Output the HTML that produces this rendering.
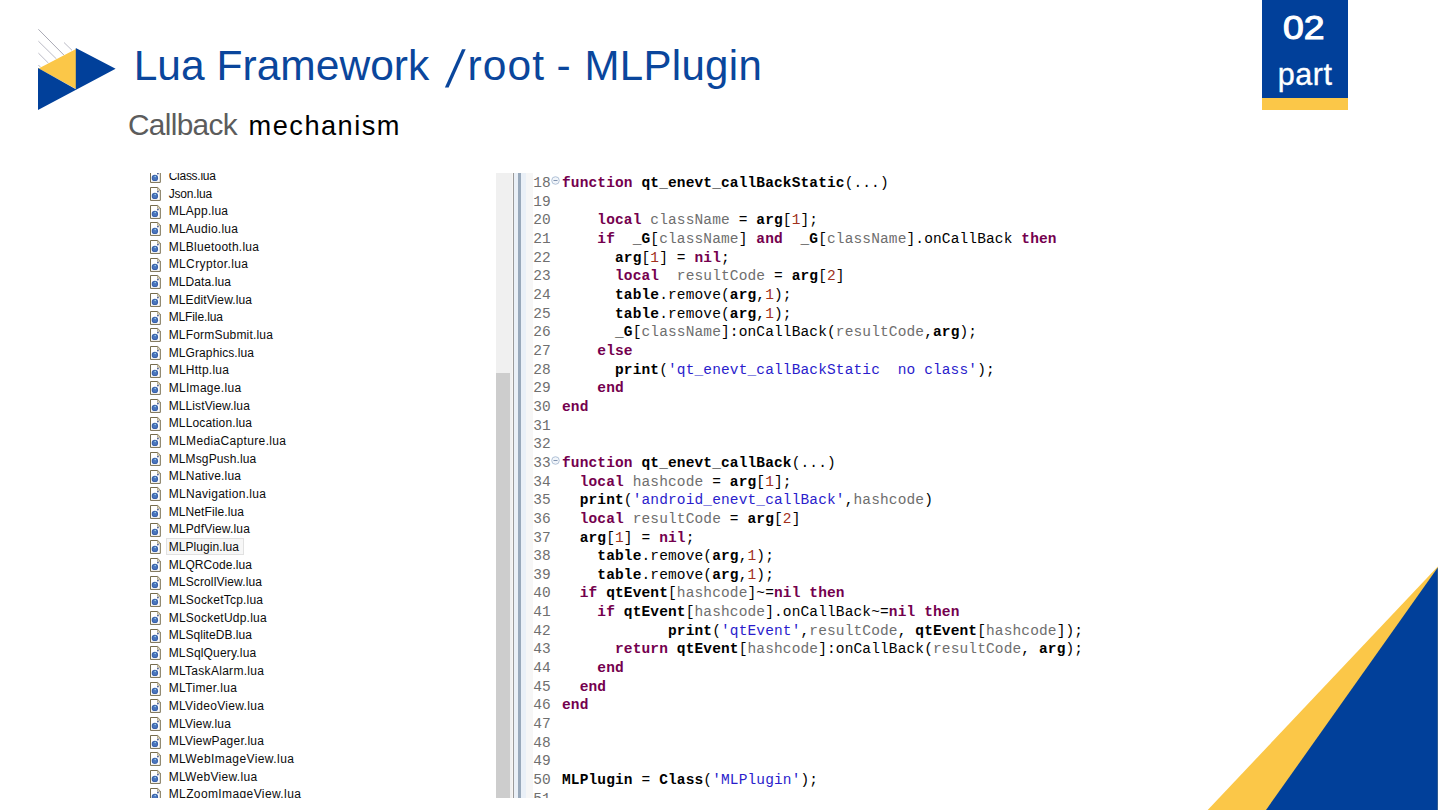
<!DOCTYPE html>
<html lang="en"><head><meta charset="utf-8"><title>Lua Framework /root - MLPlugin</title>
<style>
html,body{margin:0;padding:0;background:#fff;}
body{width:1440px;height:810px;position:relative;overflow:hidden;font-family:"Liberation Sans",sans-serif;}
.w,.w li{position:static;margin:0;padding:0;height:0;font-size:0;line-height:0;font-weight:normal;list-style:none;}
.x{position:absolute;white-space:pre;margin:0;}
.f{font-size:12px;line-height:14px;color:#0c0c0c;}
svg{position:absolute;left:0;top:0;overflow:visible;}
#badge{position:absolute;left:1262px;top:0;width:86px;height:98px;background:#01409a;}
#badge2{position:absolute;left:1262px;top:98px;width:86px;height:11.6px;background:#fbc748;}
#files{position:absolute;left:0;top:173px;width:480px;height:625px;overflow:hidden;}
#files .in{position:absolute;left:0;top:-173px;}
#sel{position:absolute;left:165.6px;top:538.3px;width:78.2px;height:16.7px;border:1px solid #e1e1e1;background:#f7f7f7;box-sizing:border-box;}
#code{position:absolute;left:496px;top:173px;width:900px;height:625px;overflow:hidden;}
#code .in{position:absolute;left:-496px;top:-173px;}
.g0{position:absolute;}
.c,.ln{position:absolute;white-space:pre;font-family:"Liberation Mono", monospace;font-size:14.5px;line-height:18px;letter-spacing:0.13px;color:#000;}
.ln{color:#6f6f6f;left:533.22px;}
.c{left:562px;}
.k{color:#74004e;font-weight:bold;}
.g{font-weight:bold;}
.l{color:#6e6e6e;}
.n{color:#a0301c;}
.s{color:#2a1ccc;}

</style></head><body>
<svg width="130" height="120" viewBox="0 0 130 120">
<g stroke="#aeaebb" stroke-width="0.85" fill="none">
<line x1="38.4" y1="29.3" x2="64" y2="55.2" stroke="#9a9aa6"/><line x1="38.4" y1="41.2" x2="56.5" y2="59"/>
<line x1="38.4" y1="53.1" x2="48.5" y2="63.2"/><line x1="64" y1="42.5" x2="72" y2="50.3"/>
<line x1="38.4" y1="65" x2="40.5" y2="67.2"/>
</g>
<polygon points="38.6,68.4 76,49 76,89" fill="#fbc748"/>
<polygon points="75.8,48 115.6,68.7 38,110 38,68 75.8,89.2" fill="#01409a"/>
</svg>
<svg width="1440" height="810" viewBox="0 0 1440 810" style="pointer-events:none">
<polygon points="1437.8,566.5 1437.8,810 1207.7,810" fill="#fbc748"/>
<polygon points="1437.8,567.5 1437.8,810 1266,810" fill="#01409a"/>
</svg>
<div id="badge"></div><div id="badge2"></div>
<h1 class="w"><span class="x t" style="left:133.7px;top:40px;letter-spacing:0.03px;font-size:42.5px;line-height:51px;color:#0a469c;">Lua Framework</span> <span class="x t" style="left:445px;top:43px;transform:skewX(-11.43deg) scaleY(1.106);transform-origin:0 44px;font-size:47px;line-height:56px;color:#0a469c;">/</span><span class="x t" style="left:467.5px;top:40px;letter-spacing:1.09px;font-size:42.5px;line-height:51px;color:#0a469c;">root</span> <span class="x t" style="left:556.6px;top:40px;font-size:42.5px;line-height:51px;color:#0a469c;">-</span> <span class="x t" style="left:584.5px;top:41px;letter-spacing:0.31px;font-size:42px;line-height:50px;color:#0a469c;">MLPlugin</span></h1>
<h2 class="w"><span class="x st" style="left:127.9px;top:107px;letter-spacing:-0.64px;font-size:29.8px;line-height:36px;color:#5c5c5c;">Callback</span> <span class="x st" style="left:248.6px;top:109px;letter-spacing:1.48px;font-size:27.2px;line-height:33px;color:#000;">mechanism</span></h2>
<div class="w"><span class="x b" style="left:1283px;top:7.6px;transform:scaleX(1.114);transform-origin:0 31px;-webkit-text-stroke:1.1px #fff;font-size:33.5px;line-height:40px;color:#fff;">02</span> <span class="x b" style="left:1277.77px;top:55.8px;letter-spacing:0.56px;-webkit-text-stroke:0.35px #fff;font-size:30.5px;line-height:37px;color:#fff;">part</span></div>
<div id="files"><div class="in">
<svg width="0" height="0" style="position:absolute"><defs><symbol id="ic" viewBox="0 0 10.8 13.9" overflow="visible"><path d="M0.5 0.5 H7.7 L10.3 3.1 V13.4 H0.5 Z" fill="#fff" stroke="#6f6443" stroke-width="0.95"/><path d="M7.5 0.8 V3.3 H10" fill="#e9e3cc" stroke="#8d8260" stroke-width="0.6"/><circle cx="4.9" cy="8.9" r="3.2" fill="#3a62aa"/><circle cx="4.9" cy="8.9" r="2.2" fill="#4b76bd"/><circle cx="5.2" cy="7.5" r="0.8" fill="#9bd3ec"/><circle cx="7.9" cy="4.6" r="0.85" fill="#3d4f86"/></symbol></defs></svg>
<div id="sel"></div>
<ul class="w">
<li><svg style="left:150.1px;top:169.43px" width="10.8" height="13.9"><use href="#ic" width="10.8" height="13.9"/></svg><span class="x f" style="left:168.7px;top:168.93px;letter-spacing:-0.27px;">Class.lua</span></li>
<li><svg style="left:150.1px;top:187.1px" width="10.8" height="13.9"><use href="#ic" width="10.8" height="13.9"/></svg><span class="x f" style="left:168.7px;top:186.6px;letter-spacing:-0.19px;">Json.lua</span></li>
<li><svg style="left:150.1px;top:204.77px" width="10.8" height="13.9"><use href="#ic" width="10.8" height="13.9"/></svg><span class="x f" style="left:168.7px;top:204.27px;letter-spacing:0.24px;">MLApp.lua</span></li>
<li><svg style="left:150.1px;top:222.43px" width="10.8" height="13.9"><use href="#ic" width="10.8" height="13.9"/></svg><span class="x f" style="left:168.7px;top:221.93px;letter-spacing:0.25px;">MLAudio.lua</span></li>
<li><svg style="left:150.1px;top:240.1px" width="10.8" height="13.9"><use href="#ic" width="10.8" height="13.9"/></svg><span class="x f" style="left:168.7px;top:239.6px;letter-spacing:0.25px;">MLBluetooth.lua</span></li>
<li><svg style="left:150.1px;top:257.77px" width="10.8" height="13.9"><use href="#ic" width="10.8" height="13.9"/></svg><span class="x f" style="left:168.7px;top:257.27px;letter-spacing:0.38px;">MLCryptor.lua</span></li>
<li><svg style="left:150.1px;top:275.44px" width="10.8" height="13.9"><use href="#ic" width="10.8" height="13.9"/></svg><span class="x f" style="left:168.7px;top:274.94px;letter-spacing:0.1px;">MLData.lua</span></li>
<li><svg style="left:150.1px;top:293.1px" width="10.8" height="13.9"><use href="#ic" width="10.8" height="13.9"/></svg><span class="x f" style="left:168.7px;top:292.6px;letter-spacing:0.11px;">MLEditView.lua</span></li>
<li><svg style="left:150.1px;top:310.77px" width="10.8" height="13.9"><use href="#ic" width="10.8" height="13.9"/></svg><span class="x f" style="left:168.7px;top:310.27px;letter-spacing:-0.12px;">MLFile.lua</span></li>
<li><svg style="left:150.1px;top:328.44px" width="10.8" height="13.9"><use href="#ic" width="10.8" height="13.9"/></svg><span class="x f" style="left:168.7px;top:327.94px;letter-spacing:0.19px;">MLFormSubmit.lua</span></li>
<li><svg style="left:150.1px;top:346.1px" width="10.8" height="13.9"><use href="#ic" width="10.8" height="13.9"/></svg><span class="x f" style="left:168.7px;top:345.6px;letter-spacing:0.1px;">MLGraphics.lua</span></li>
<li><svg style="left:150.1px;top:363.77px" width="10.8" height="13.9"><use href="#ic" width="10.8" height="13.9"/></svg><span class="x f" style="left:168.7px;top:363.27px;letter-spacing:0.24px;">MLHttp.lua</span></li>
<li><svg style="left:150.1px;top:381.44px" width="10.8" height="13.9"><use href="#ic" width="10.8" height="13.9"/></svg><span class="x f" style="left:168.7px;top:380.94px;letter-spacing:0.3px;">MLImage.lua</span></li>
<li><svg style="left:150.1px;top:399.1px" width="10.8" height="13.9"><use href="#ic" width="10.8" height="13.9"/></svg><span class="x f" style="left:168.7px;top:398.6px;letter-spacing:0.1px;">MLListView.lua</span></li>
<li><svg style="left:150.1px;top:416.77px" width="10.8" height="13.9"><use href="#ic" width="10.8" height="13.9"/></svg><span class="x f" style="left:168.7px;top:416.27px;letter-spacing:0.15px;">MLLocation.lua</span></li>
<li><svg style="left:150.1px;top:434.44px" width="10.8" height="13.9"><use href="#ic" width="10.8" height="13.9"/></svg><span class="x f" style="left:168.7px;top:433.94px;letter-spacing:0.35px;">MLMediaCapture.lua</span></li>
<li><svg style="left:150.1px;top:452.11px" width="10.8" height="13.9"><use href="#ic" width="10.8" height="13.9"/></svg><span class="x f" style="left:168.7px;top:451.61px;letter-spacing:0.12px;">MLMsgPush.lua</span></li>
<li><svg style="left:150.1px;top:469.77px" width="10.8" height="13.9"><use href="#ic" width="10.8" height="13.9"/></svg><span class="x f" style="left:168.7px;top:469.27px;letter-spacing:0.21px;">MLNative.lua</span></li>
<li><svg style="left:150.1px;top:487.44px" width="10.8" height="13.9"><use href="#ic" width="10.8" height="13.9"/></svg><span class="x f" style="left:168.7px;top:486.94px;letter-spacing:0.3px;">MLNavigation.lua</span></li>
<li><svg style="left:150.1px;top:505.11px" width="10.8" height="13.9"><use href="#ic" width="10.8" height="13.9"/></svg><span class="x f" style="left:168.7px;top:504.61px;letter-spacing:0.1px;">MLNetFile.lua</span></li>
<li><svg style="left:150.1px;top:522.77px" width="10.8" height="13.9"><use href="#ic" width="10.8" height="13.9"/></svg><span class="x f" style="left:168.7px;top:522.27px;letter-spacing:0.17px;">MLPdfView.lua</span></li>
<li><svg style="left:150.1px;top:540.44px" width="10.8" height="13.9"><use href="#ic" width="10.8" height="13.9"/></svg><span class="x f" style="left:168.7px;top:539.94px;letter-spacing:0.08px;">MLPlugin.lua</span></li>
<li><svg style="left:150.1px;top:558.11px" width="10.8" height="13.9"><use href="#ic" width="10.8" height="13.9"/></svg><span class="x f" style="left:168.7px;top:557.61px;letter-spacing:0.05px;">MLQRCode.lua</span></li>
<li><svg style="left:150.1px;top:575.77px" width="10.8" height="13.9"><use href="#ic" width="10.8" height="13.9"/></svg><span class="x f" style="left:168.7px;top:575.27px;letter-spacing:0.14px;">MLScrollView.lua</span></li>
<li><svg style="left:150.1px;top:593.44px" width="10.8" height="13.9"><use href="#ic" width="10.8" height="13.9"/></svg><span class="x f" style="left:168.7px;top:592.94px;letter-spacing:0.21px;">MLSocketTcp.lua</span></li>
<li><svg style="left:150.1px;top:611.11px" width="10.8" height="13.9"><use href="#ic" width="10.8" height="13.9"/></svg><span class="x f" style="left:168.7px;top:610.61px;letter-spacing:0.23px;">MLSocketUdp.lua</span></li>
<li><svg style="left:150.1px;top:628.78px" width="10.8" height="13.9"><use href="#ic" width="10.8" height="13.9"/></svg><span class="x f" style="left:168.7px;top:628.28px;letter-spacing:0.04px;">MLSqliteDB.lua</span></li>
<li><svg style="left:150.1px;top:646.44px" width="10.8" height="13.9"><use href="#ic" width="10.8" height="13.9"/></svg><span class="x f" style="left:168.7px;top:645.94px;letter-spacing:0.18px;">MLSqlQuery.lua</span></li>
<li><svg style="left:150.1px;top:664.11px" width="10.8" height="13.9"><use href="#ic" width="10.8" height="13.9"/></svg><span class="x f" style="left:168.7px;top:663.61px;letter-spacing:0.29px;">MLTaskAlarm.lua</span></li>
<li><svg style="left:150.1px;top:681.78px" width="10.8" height="13.9"><use href="#ic" width="10.8" height="13.9"/></svg><span class="x f" style="left:168.7px;top:681.28px;letter-spacing:0.35px;">MLTimer.lua</span></li>
<li><svg style="left:150.1px;top:699.44px" width="10.8" height="13.9"><use href="#ic" width="10.8" height="13.9"/></svg><span class="x f" style="left:168.7px;top:698.94px;letter-spacing:0.32px;">MLVideoView.lua</span></li>
<li><svg style="left:150.1px;top:717.11px" width="10.8" height="13.9"><use href="#ic" width="10.8" height="13.9"/></svg><span class="x f" style="left:168.7px;top:716.61px;letter-spacing:0.22px;">MLView.lua</span></li>
<li><svg style="left:150.1px;top:734.78px" width="10.8" height="13.9"><use href="#ic" width="10.8" height="13.9"/></svg><span class="x f" style="left:168.7px;top:734.28px;letter-spacing:0.21px;">MLViewPager.lua</span></li>
<li><svg style="left:150.1px;top:752.44px" width="10.8" height="13.9"><use href="#ic" width="10.8" height="13.9"/></svg><span class="x f" style="left:168.7px;top:751.94px;letter-spacing:0.42px;">MLWebImageView.lua</span></li>
<li><svg style="left:150.1px;top:770.11px" width="10.8" height="13.9"><use href="#ic" width="10.8" height="13.9"/></svg><span class="x f" style="left:168.7px;top:769.61px;letter-spacing:0.31px;">MLWebView.lua</span></li>
<li><svg style="left:150.1px;top:787.78px" width="10.8" height="13.9"><use href="#ic" width="10.8" height="13.9"/></svg><span class="x f" style="left:168.7px;top:787.28px;letter-spacing:0.39px;">MLZoomImageView.lua</span></li>
</ul>
</div></div>
<div id="code"><div class="in">
<div class="g0" style="left:496px;top:173px;width:17px;height:625px;background:#f0f0f0"></div>
<div class="g0" style="left:496px;top:373px;width:14px;height:425px;background:#cdcdcd"></div>
<div class="g0" style="left:511.6px;top:173px;width:1.4px;height:625px;background:#f8f5f3"></div>
<div class="g0" style="left:513px;top:173px;width:1.3px;height:625px;background:#9a9a9a"></div>
<div class="g0" style="left:514.3px;top:173px;width:12px;height:625px;background:#eaf0f7"></div>
<div class="g0" style="left:518px;top:173px;width:3px;height:625px;background:#99a9bb"></div>
<div class="g0" style="left:526px;top:173px;width:7px;height:625px;background:#f6f6f6"></div>
<div class="w"><span class="ln" style="top:174.1px">18</span><svg style="left:551px;top:175.8px" width="9" height="9" viewBox="0 0 9 9"><circle cx="4.5" cy="4.5" r="3.8" fill="#f1f5fa" stroke="#a9bbd3" stroke-width="0.9"/><line x1="2.5" y1="4.5" x2="6.5" y2="4.5" stroke="#7388a6" stroke-width="0.9"/></svg> <code class="c" style="top:174.1px"><span class="k">function</span> <span class="g">qt_enevt_callBackStatic</span>(...)</code></div>
<div class="w"><span class="ln" style="top:192.75px">19</span></div>
<div class="w"><span class="ln" style="top:211.41px">20</span> <code class="c" style="top:211.41px">    <span class="k">local</span> <span class="l">className</span> = <span class="g">arg</span>[<span class="n">1</span>];</code></div>
<div class="w"><span class="ln" style="top:230.06px">21</span> <code class="c" style="top:230.06px">    <span class="k">if</span>  <span class="g">_G</span>[<span class="l">className</span>] <span class="k">and</span>  <span class="g">_G</span>[<span class="l">className</span>].onCallBack <span class="k">then</span></code></div>
<div class="w"><span class="ln" style="top:248.72px">22</span> <code class="c" style="top:248.72px">      <span class="g">arg</span>[<span class="n">1</span>] = <span class="k">nil</span>;</code></div>
<div class="w"><span class="ln" style="top:267.37px">23</span> <code class="c" style="top:267.37px">      <span class="k">local</span>  <span class="l">resultCode</span> = <span class="g">arg</span>[<span class="n">2</span>]</code></div>
<div class="w"><span class="ln" style="top:286.02px">24</span> <code class="c" style="top:286.02px">      <span class="g">table</span>.remove(<span class="g">arg</span>,<span class="n">1</span>);</code></div>
<div class="w"><span class="ln" style="top:304.68px">25</span> <code class="c" style="top:304.68px">      <span class="g">table</span>.remove(<span class="g">arg</span>,<span class="n">1</span>);</code></div>
<div class="w"><span class="ln" style="top:323.33px">26</span> <code class="c" style="top:323.33px">      <span class="g">_G</span>[<span class="l">className</span>]:onCallBack(<span class="l">resultCode</span>,<span class="g">arg</span>);</code></div>
<div class="w"><span class="ln" style="top:341.99px">27</span> <code class="c" style="top:341.99px">    <span class="k">else</span></code></div>
<div class="w"><span class="ln" style="top:360.64px">28</span> <code class="c" style="top:360.64px">      <span class="g">print</span>(<span class="s">'qt_enevt_callBackStatic  no class'</span>);</code></div>
<div class="w"><span class="ln" style="top:379.29px">29</span> <code class="c" style="top:379.29px">    <span class="k">end</span></code></div>
<div class="w"><span class="ln" style="top:397.95px">30</span> <code class="c" style="top:397.95px"><span class="k">end</span></code></div>
<div class="w"><span class="ln" style="top:416.6px">31</span></div>
<div class="w"><span class="ln" style="top:435.26px">32</span></div>
<div class="w"><span class="ln" style="top:453.91px">33</span><svg style="left:551px;top:455.61px" width="9" height="9" viewBox="0 0 9 9"><circle cx="4.5" cy="4.5" r="3.8" fill="#f1f5fa" stroke="#a9bbd3" stroke-width="0.9"/><line x1="2.5" y1="4.5" x2="6.5" y2="4.5" stroke="#7388a6" stroke-width="0.9"/></svg> <code class="c" style="top:453.91px"><span class="k">function</span> <span class="g">qt_enevt_callBack</span>(...)</code></div>
<div class="w"><span class="ln" style="top:472.56px">34</span> <code class="c" style="top:472.56px">  <span class="k">local</span> <span class="l">hashcode</span> = <span class="g">arg</span>[<span class="n">1</span>];</code></div>
<div class="w"><span class="ln" style="top:491.22px">35</span> <code class="c" style="top:491.22px">  <span class="g">print</span>(<span class="s">'android_enevt_callBack'</span>,<span class="l">hashcode</span>)</code></div>
<div class="w"><span class="ln" style="top:509.87px">36</span> <code class="c" style="top:509.87px">  <span class="k">local</span> <span class="l">resultCode</span> = <span class="g">arg</span>[<span class="n">2</span>]</code></div>
<div class="w"><span class="ln" style="top:528.53px">37</span> <code class="c" style="top:528.53px">  <span class="g">arg</span>[<span class="n">1</span>] = <span class="k">nil</span>;</code></div>
<div class="w"><span class="ln" style="top:547.18px">38</span> <code class="c" style="top:547.18px">    <span class="g">table</span>.remove(<span class="g">arg</span>,<span class="n">1</span>);</code></div>
<div class="w"><span class="ln" style="top:565.83px">39</span> <code class="c" style="top:565.83px">    <span class="g">table</span>.remove(<span class="g">arg</span>,<span class="n">1</span>);</code></div>
<div class="w"><span class="ln" style="top:584.49px">40</span> <code class="c" style="top:584.49px">  <span class="k">if</span> <span class="g">qtEvent</span>[<span class="l">hashcode</span>]~=<span class="k">nil</span> <span class="k">then</span></code></div>
<div class="w"><span class="ln" style="top:603.14px">41</span> <code class="c" style="top:603.14px">    <span class="k">if</span> <span class="g">qtEvent</span>[<span class="l">hashcode</span>].onCallBack~=<span class="k">nil</span> <span class="k">then</span></code></div>
<div class="w"><span class="ln" style="top:621.8px">42</span> <code class="c" style="top:621.8px">            <span class="g">print</span>(<span class="s">'qtEvent'</span>,<span class="l">resultCode</span>, <span class="g">qtEvent</span>[<span class="l">hashcode</span>]);</code></div>
<div class="w"><span class="ln" style="top:640.45px">43</span> <code class="c" style="top:640.45px">      <span class="k">return</span> <span class="g">qtEvent</span>[<span class="l">hashcode</span>]:onCallBack(<span class="l">resultCode</span>, <span class="g">arg</span>);</code></div>
<div class="w"><span class="ln" style="top:659.1px">44</span> <code class="c" style="top:659.1px">    <span class="k">end</span></code></div>
<div class="w"><span class="ln" style="top:677.76px">45</span> <code class="c" style="top:677.76px">  <span class="k">end</span></code></div>
<div class="w"><span class="ln" style="top:696.41px">46</span> <code class="c" style="top:696.41px"><span class="k">end</span></code></div>
<div class="w"><span class="ln" style="top:715.07px">47</span></div>
<div class="w"><span class="ln" style="top:733.72px">48</span></div>
<div class="w"><span class="ln" style="top:752.37px">49</span></div>
<div class="w"><span class="ln" style="top:771.03px">50</span> <code class="c" style="top:771.03px"><span class="g">MLPlugin</span> = <span class="g">Class</span>(<span class="s">'MLPlugin'</span>);</code></div>
<div class="w"><span class="ln" style="top:789.68px">51</span></div>
</div></div>
</body></html>
